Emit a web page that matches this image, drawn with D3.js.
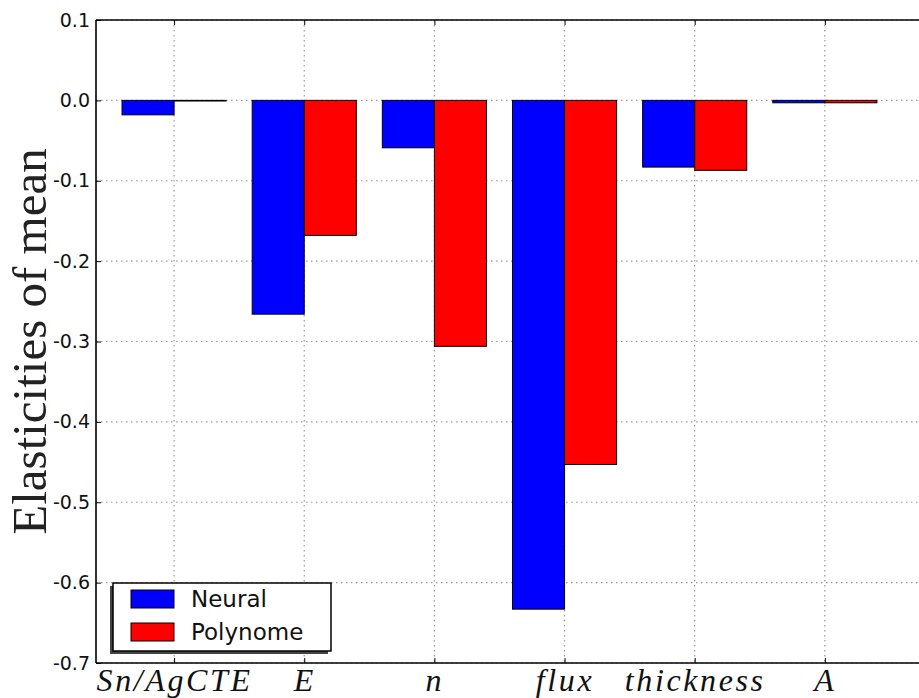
<!DOCTYPE html>
<html><head><meta charset="utf-8">
<script src="https://cdn.jsdelivr.net/npm/d3@7"></script>
<style>body{margin:0;background:#fff}</style>
</head><body>
<svg id="c" width="919" height="698"></svg>
<script>
const categories = ["Sn/AgCTE","E","n","flux","thickness","A"];
const neural = [-0.018,-0.266,-0.059,-0.633,-0.083,-0.003];
const polynome = [-0.0008,-0.168,-0.306,-0.453,-0.087,-0.003];
const yTicks = [0.1,0.0,-0.1,-0.2,-0.3,-0.4,-0.5,-0.6,-0.7];
const seriesNames = ["Neural","Polynome"];
const colors = ["#0000ff","#ff0000"];

const svg = d3.select("#c");
const L=96, T=20, B=663, R=955;
const x = d3.scaleLinear().domain([-0.6,6.0]).range([L,R]);
const y = d3.scaleLinear().domain([-0.7,0.1]).range([B,T]);
const bw = 0.4;

const g = svg.append("g");
// grid
g.selectAll(".vg").data(categories).join("line")
 .attr("x1",(d,i)=>x(i)).attr("x2",(d,i)=>x(i)).attr("y1",T).attr("y2",B)
 .attr("stroke","#999").attr("stroke-width",1.2).attr("stroke-dasharray","1.5,3.5");
g.selectAll(".hg").data(yTicks).join("line")
 .attr("x1",L).attr("x2",R).attr("y1",d=>y(d)).attr("y2",d=>y(d))
 .attr("stroke","#999").attr("stroke-width",1.2).attr("stroke-dasharray","1.5,3.5");

// bars
[neural,polynome].forEach((vals,s)=>{
  g.append("g").selectAll("rect").data(vals).join("rect")
   .attr("x",(d,i)=>x(i-bw+s*bw))
   .attr("width",x(bw)-x(0))
   .attr("y",d=>y(Math.max(0,d)))
   .attr("height",d=>Math.abs(y(d)-y(0)))
   .attr("fill",colors[s]).attr("stroke","#000").attr("stroke-width",1);
});

// axes frame
const frame = svg.append("g").attr("stroke","#000").attr("stroke-width",1.6);
frame.append("line").attr("x1",L).attr("x2",L).attr("y1",T).attr("y2",B);
frame.append("line").attr("x1",L).attr("x2",R).attr("y1",T).attr("y2",T);
frame.append("line").attr("x1",L).attr("x2",R).attr("y1",B).attr("y2",B);

// ticks
const xAxisB = d3.axisBottom(x).tickValues(d3.range(categories.length)).tickSize(-5).tickFormat(i=>categories[i]);
const gxb = svg.append("g").attr("transform",`translate(0,${B})`).call(xAxisB);
gxb.select(".domain").remove();
gxb.selectAll("text").attr("font-family","'Liberation Serif',serif").attr("font-style","italic")
  .attr("font-size",32).attr("letter-spacing","2.6px").attr("dy","0.78em").attr("fill","#111");
gxb.selectAll(".tick line").attr("stroke","#000");
const gxt = svg.append("g").attr("transform",`translate(0,${T})`)
  .call(d3.axisTop(x).tickValues(d3.range(categories.length)).tickSize(-5).tickFormat(""));
gxt.select(".domain").remove();
gxt.selectAll(".tick line").attr("stroke","#000");

const fmt = d3.format(".1f");
const gy = svg.append("g").attr("transform",`translate(${L},0)`)
  .call(d3.axisLeft(y).tickValues(yTicks).tickSize(-5).tickPadding(6).tickFormat(d=>fmt(d).replace("\u2212","-")));
gy.select(".domain").remove();
gy.selectAll(".tick line").attr("stroke","#000");
gy.selectAll("text").attr("font-family","'DejaVu Sans',sans-serif").attr("font-size",19).attr("fill","#111");

// y label
svg.append("text").attr("transform",`translate(46,${(T+B)/2}) rotate(-90)`)
 .attr("text-anchor","middle").attr("font-family","'Liberation Serif',serif")
 .attr("font-size",49).attr("fill","#222").text("Elasticities of mean");

// legend
const lg = svg.append("g");
lg.append("rect").attr("x",110).attr("y",586).attr("width",218).attr("height",68).attr("fill","#444");
lg.append("rect").attr("x",113).attr("y",583).attr("width",218).attr("height",68).attr("fill","#fff").attr("stroke","#000").attr("stroke-width",1.5);
seriesNames.forEach((n,i)=>{
  lg.append("rect").attr("x",131).attr("y",590+i*33).attr("width",43).attr("height",18)
    .attr("fill",colors[i]).attr("stroke","#000").attr("stroke-width",1);
  lg.append("text").attr("x",191).attr("y",607+i*33).attr("font-family","'DejaVu Sans',sans-serif")
    .attr("font-size",23).attr("fill","#111").text(n);
});
</script>
</body></html>
